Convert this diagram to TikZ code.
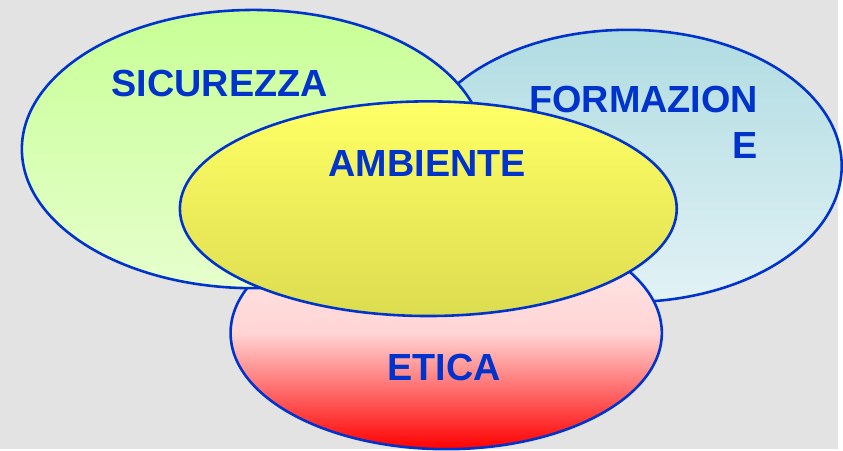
\documentclass[tikz,border=0pt]{standalone}
\usepackage{fontspec}
\setmainfont{Liberation Sans}
\usetikzlibrary{shapes.geometric}

\definecolor{bordo}{HTML}{0033CC}
\definecolor{sfondo}{HTML}{E3E3E3}

\begin{document}
\begin{tikzpicture}[x=1pt, y=-1pt]
        \tikzstyle{area} = [ellipse, draw=bordo, line width=2.6pt, inner sep=0pt]
        \tikzstyle{titolo} = [text=bordo, font=\fontsize{38}{47}\selectfont\bfseries, inner sep=0pt]

        \fill [sfondo] (0,0) rectangle (843,452);

        \node [area, top color={rgb,255:red,176;green,220;blue,226}, bottom color={rgb,255:red,226;green,242;blue,245},
               minimum width=430pt, minimum height=274pt] (formazione) at (632,167) {};
        \node [area, top color={rgb,255:red,255;green,240;blue,240}, bottom color={rgb,255:red,255;green,0;blue,0},
               middle color={rgb,255:red,255;green,212;blue,212},
               minimum width=434pt, minimum height=234pt] (etica) at (449,335) {};
        \node [area, top color={rgb,255:red,200;green,255;blue,150}, bottom color={rgb,255:red,230;green,255;blue,205},
               minimum width=466pt, minimum height=280pt] (sicurezza) at (255,150) {};
        \node [area, top color={rgb,255:red,255;green,255;blue,102}, bottom color={rgb,255:red,220;green,220;blue,80},
               minimum width=500pt, minimum height=216pt] (ambiente) at (431,210) {};

        \node [titolo, anchor=base] (t-sicurezza) at (221,97) {SICUREZZA};
        \node [titolo, anchor=north east, align=right] (t-formazione) at (763,86) {FORMAZION\\E};
        \node [titolo, anchor=base] (t-ambiente) at (430,178) {AMBIENTE};
        \node [titolo, anchor=base] (t-etica) at (447,383) {ETICA};
    \end{tikzpicture}
\end{document}
